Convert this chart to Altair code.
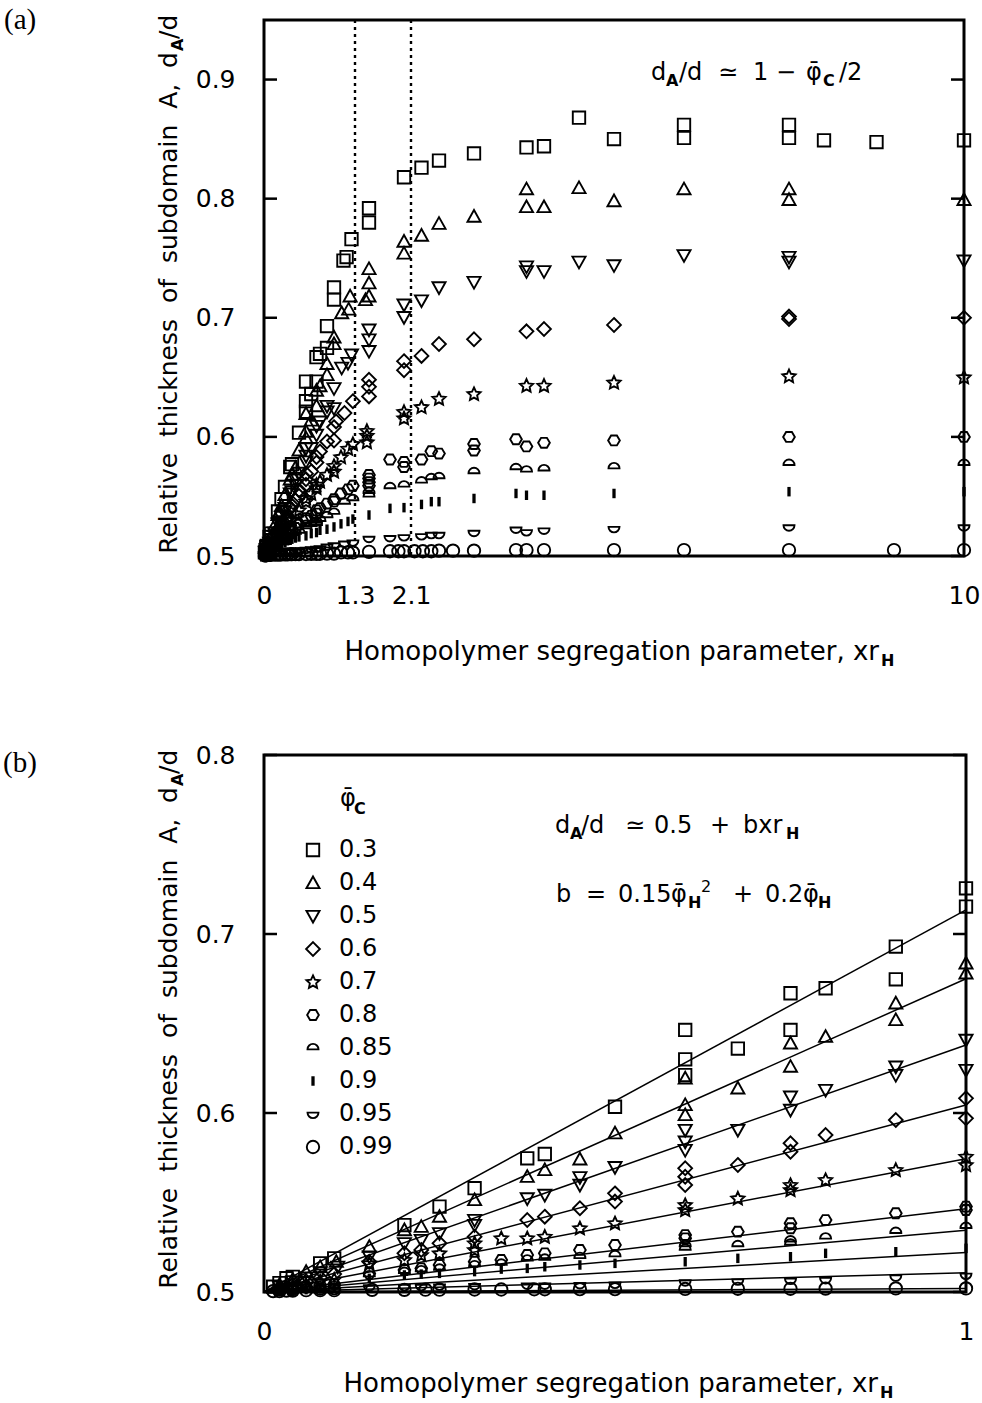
import math
import altair as alt
import pandas as pd

# ---------------- data ----------------
PHI_C = ["0.3", "0.4", "0.5", "0.6", "0.7", "0.8", "0.85", "0.9", "0.95", "0.99"]

X_30 = [0.013, 0.022, 0.032, 0.041, 0.08, 0.1,
        0.2, 0.25, 0.3, 0.375, 0.4, 0.5, 0.6, 0.6, 0.6, 0.675, 0.75, 0.75, 0.8, 0.9, 0.9, 1.0, 1.0,
        1.135, 1.18, 1.25, 1.5, 1.5, 2.0, 2.25, 2.5, 3.0, 3.75, 4.0, 4.5, 5.0, 6.0, 6.0, 7.5, 7.5, 8.0, 8.75, 10.0]
Y_30 = [0.503, 0.505, 0.5077, 0.5085, 0.516, 0.5188,
        0.5374, 0.5477, 0.558, 0.5747, 0.5771, 0.6035, 0.6464, 0.63, 0.6212, 0.636, 0.6669, 0.6464, 0.6697, 0.693, 0.6747, 0.7255, 0.7153,
        0.748, 0.751, 0.766, 0.792, 0.78, 0.818, 0.826, 0.832, 0.838, 0.843, 0.844, 0.868, 0.85, 0.862, 0.851, 0.862, 0.851, 0.849, 0.8475, 0.849]

X_40 = [0.022, 0.041, 0.06, 0.08, 0.103,
        0.15, 0.2, 0.224, 0.25, 0.3, 0.375, 0.4, 0.45, 0.5, 0.6, 0.6, 0.6, 0.675, 0.75, 0.75, 0.8, 0.9, 0.9, 1.0, 1.0,
        1.11, 1.21, 1.23, 1.45, 1.5, 1.5, 1.5, 2.0, 2.0, 2.25, 2.5, 3.0, 3.75, 3.75, 4.0, 4.5, 5.0, 6.0, 7.5, 7.5, 10.0]
Y_40 = [0.504, 0.507, 0.5113, 0.514, 0.5169,
        0.5253, 0.5346, 0.5365, 0.5421, 0.5514, 0.5644, 0.5682, 0.5741, 0.5887, 0.6194, 0.6045, 0.5989, 0.6138, 0.6389, 0.6259, 0.6426, 0.6613, 0.652, 0.6836, 0.678,
        0.704, 0.707, 0.718, 0.715, 0.741, 0.729, 0.718, 0.764, 0.754, 0.769, 0.779, 0.785, 0.808, 0.793, 0.793, 0.809, 0.798, 0.808, 0.808, 0.799, 0.799]

X_50 = [0.022, 0.041, 0.06, 0.08, 0.105,
        0.15, 0.2, 0.224, 0.25, 0.3, 0.3, 0.375, 0.4, 0.45, 0.45, 0.5, 0.6, 0.6, 0.6, 0.675, 0.75, 0.75, 0.8, 0.9, 0.9, 1.0, 1.0,
        1.11, 1.2, 1.25, 1.5, 1.5, 1.5, 2.0, 2.0, 2.25, 2.5, 3.0, 3.75, 3.75, 4.0, 4.5, 5.0, 6.0, 7.5, 7.5, 10.0]
Y_50 = [0.503, 0.506, 0.508, 0.511, 0.5141,
        0.5197, 0.5272, 0.529, 0.5328, 0.5402, 0.5374, 0.5523, 0.5542, 0.5598, 0.5641, 0.5697, 0.5905, 0.584, 0.5793, 0.5905, 0.6091, 0.6017, 0.6128, 0.6259, 0.6212, 0.6408, 0.624,
        0.658, 0.662, 0.669, 0.69, 0.6817, 0.672, 0.711, 0.7005, 0.7145, 0.7255, 0.73, 0.743, 0.739, 0.739, 0.747, 0.744, 0.7525, 0.751, 0.747, 0.748]

X_60 = [0.022, 0.041, 0.06, 0.08, 0.1,
        0.15, 0.2, 0.224, 0.25, 0.3, 0.375, 0.4, 0.45, 0.5, 0.5, 0.6, 0.6, 0.6, 0.675, 0.75, 0.75, 0.8, 0.9, 1.0, 1.0,
        1.03, 1.15, 1.27, 1.5, 1.5, 1.5, 2.0, 2.0, 2.25, 2.5, 3.0, 3.75, 4.0, 5.0, 7.5, 7.5, 10.0]
Y_60 = [0.502, 0.504, 0.506, 0.508, 0.510,
        0.5169, 0.5216, 0.5235, 0.5272, 0.5309, 0.5402, 0.5421, 0.5468, 0.5551, 0.5505, 0.5691, 0.5644, 0.5598, 0.571, 0.5831, 0.5784, 0.5877, 0.5961, 0.6082, 0.597,
        0.613, 0.62, 0.63, 0.648, 0.642, 0.634, 0.6636, 0.656, 0.668, 0.678, 0.682, 0.6886, 0.6906, 0.694, 0.701, 0.699, 0.70]

X_70 = [0.022, 0.041, 0.06, 0.08, 0.1,
        0.15, 0.2, 0.224, 0.25, 0.3, 0.3, 0.338, 0.375, 0.4, 0.45, 0.5, 0.6, 0.6, 0.675, 0.75, 0.75, 0.8, 0.9, 1.0, 1.0,
        1.1, 1.2, 1.27, 1.47, 1.47, 1.47, 2.0, 2.0, 2.25, 2.5, 3.0, 3.75, 4.0, 5.0, 7.5, 10.0]
Y_70 = [0.5015, 0.503, 0.504, 0.506, 0.507,
        0.516, 0.5179, 0.5207, 0.5216, 0.5272, 0.5235, 0.53, 0.53, 0.5309, 0.5356, 0.5384, 0.5486, 0.5458, 0.5523, 0.5598, 0.557, 0.5626, 0.5682, 0.5756, 0.571,
        0.583, 0.59, 0.594, 0.605, 0.601, 0.5956, 0.621, 0.6156, 0.625, 0.632, 0.636, 0.643, 0.643, 0.6456, 0.651, 0.65]

X_80 = [0.022, 0.041, 0.06, 0.08, 0.1,
        0.15, 0.2, 0.224, 0.25, 0.3, 0.338, 0.375, 0.4, 0.45, 0.5, 0.6, 0.6, 0.675, 0.75, 0.75, 0.8, 0.9, 1.0, 1.0,
        1.1, 1.2, 1.27, 1.5, 1.5, 1.5, 1.5, 1.8, 2.0, 2.0, 2.25, 2.39, 2.5, 3.0, 3.0, 3.6, 3.75, 4.0, 5.0, 7.5, 10.0]
Y_80 = [0.501, 0.502, 0.503, 0.504, 0.5045,
        0.5104, 0.5123, 0.5132, 0.5151, 0.5169, 0.5179, 0.5207, 0.5216, 0.5235, 0.5263, 0.5318, 0.53, 0.5337, 0.5384, 0.5356, 0.5402, 0.544, 0.5477, 0.5458,
        0.5525, 0.556, 0.559, 0.568, 0.565, 0.562, 0.559, 0.581, 0.579, 0.5747, 0.581, 0.588, 0.586, 0.594, 0.5886, 0.598, 0.592, 0.595, 0.597, 0.6, 0.6]

X_85 = [0.022, 0.041, 0.06, 0.08, 0.1,
        0.15, 0.2, 0.224, 0.25, 0.3, 0.338, 0.375, 0.4, 0.45, 0.5, 0.6, 0.6, 0.675, 0.75, 0.75, 0.8, 0.9, 1.0,
        1.15, 1.27, 1.5, 1.5, 1.8, 2.0, 2.25, 2.39, 2.5, 3.0, 3.6, 3.75, 4.0, 5.0, 7.5, 10.0]
Y_85 = [0.5008, 0.5014, 0.502, 0.5027, 0.5035,
        0.5095, 0.5114, 0.5123, 0.5132, 0.5151, 0.516, 0.5183, 0.5188, 0.5197, 0.5207, 0.5263, 0.5244, 0.5263, 0.529, 0.5272, 0.5306, 0.5337, 0.5365,
        0.545, 0.548, 0.551, 0.554, 0.558, 0.5594, 0.5628, 0.5656, 0.5664, 0.5706, 0.574, 0.572, 0.573, 0.5747, 0.5775, 0.5775]

X_90 = [0.041, 0.06, 0.08, 0.1,
        0.15, 0.2, 0.224, 0.25, 0.3, 0.338, 0.375, 0.4, 0.45, 0.5, 0.6, 0.675, 0.75, 0.8, 0.9, 1.0,
        1.1, 1.2, 1.27, 1.5, 1.8, 2.0, 2.25, 2.39, 2.5, 3.0, 3.6, 3.75, 4.0, 5.0, 7.5, 10.0]
Y_90 = [0.501, 0.5013, 0.5017, 0.5022,
        0.5076, 0.5095, 0.51, 0.5104, 0.5114, 0.5128, 0.5132, 0.5141, 0.5151, 0.516, 0.5169, 0.5188, 0.5197, 0.5216, 0.5225, 0.5244,
        0.527, 0.529, 0.531, 0.5344, 0.54, 0.5406, 0.5433, 0.5456, 0.5456, 0.5483, 0.5525, 0.551, 0.551, 0.5525, 0.554, 0.554]

X_95 = [0.041, 0.08, 0.1,
        0.15, 0.2, 0.224, 0.25, 0.3, 0.375, 0.4, 0.45, 0.5, 0.6, 0.675, 0.75, 0.8, 0.9, 1.0,
        1.15, 1.27, 1.5, 1.8, 2.0, 2.25, 2.39, 2.5, 3.0, 3.6, 3.75, 4.0, 5.0, 7.5, 10.0]
Y_95 = [0.5005, 0.5008, 0.501,
        0.503, 0.5032, 0.5032, 0.5035, 0.5037, 0.504, 0.504, 0.5043, 0.5045, 0.5058, 0.5063, 0.5067, 0.5071, 0.5085, 0.5095,
        0.511, 0.512, 0.515, 0.5156, 0.5164, 0.5172, 0.5183, 0.5183, 0.52, 0.5228, 0.5206, 0.522, 0.5233, 0.5247, 0.5247]

X_99 = [0.013, 0.022, 0.032, 0.041, 0.06, 0.08, 0.1,
        0.154, 0.2, 0.23, 0.25, 0.3, 0.338, 0.385, 0.4, 0.45, 0.5, 0.6, 0.675, 0.75, 0.8, 0.9, 1.0,
        1.1, 1.2, 1.27, 1.5, 1.8, 1.92, 2.0, 2.15, 2.27, 2.39, 2.5, 2.7, 3.0, 3.6, 3.75, 4.0, 5.0, 6.0, 7.5, 9.0, 10.0]
Y_99 = [0.5005, 0.5005, 0.5008, 0.5008, 0.501, 0.501, 0.501,
        0.5012, 0.5012, 0.5013, 0.5013, 0.5014, 0.5014, 0.5015, 0.5015, 0.5016, 0.5016, 0.5017, 0.5018, 0.5018, 0.5019, 0.502, 0.502,
        0.503, 0.503, 0.503, 0.5035, 0.504, 0.504, 0.504, 0.504, 0.504, 0.504, 0.5045, 0.5045, 0.5045, 0.505, 0.505, 0.505, 0.505, 0.505, 0.505, 0.505, 0.505]

# fitted straight lines of panel (b): value at xr_H = 0 and at xr_H = 1
LINE_X = [0.0, 1.0]
LINE_START = 0.5
LINE_END = [0.7135, 0.675, 0.638, 0.6045, 0.5745, 0.5465, 0.5345, 0.522, 0.5108, 0.502]

A_XTICKS = [0, 1.3, 2.1, 10]
A_YTICKS = [0.5, 0.6, 0.7, 0.8, 0.9]
B_XTICKS = [0, 1]
B_YTICKS = [0.5, 0.6, 0.7, 0.8]
GUIDES = [1.3, 2.1]

# ---------------- tables ----------------
SERIES = list(zip(PHI_C, [X_30, X_40, X_50, X_60, X_70, X_80, X_85, X_90, X_95, X_99],
                  [Y_30, Y_40, Y_50, Y_60, Y_70, Y_80, Y_85, Y_90, Y_95, Y_99]))
rows = []
for phi, xs, ys in SERIES:
    assert len(xs) == len(ys), phi
    rows += [{"phi": phi, "x": a, "y": b} for a, b in zip(xs, ys)]
pts = pd.DataFrame(rows)

line_rows = []
for phi, end in zip(PHI_C, LINE_END):
    line_rows.append({"phi": phi, "x": LINE_X[0], "y": LINE_START})
    line_rows.append({"phi": phi, "x": LINE_X[1], "y": end})
lines = pd.DataFrame(line_rows)

# ---------------- marker shapes ----------------
star_pts = []
for i in range(10):
    r = 1.0 if i % 2 == 0 else 0.48
    a = -math.pi / 2 + i * math.pi / 5
    star_pts.append(f"{r * math.cos(a):.3f},{r * math.sin(a) + 0.05:.3f}")
STAR = "M" + "L".join(star_pts) + "Z"
SHAPES = [
    "M-0.9,-0.9H0.9V0.9H-0.9Z",                       # square
    "M0,-0.95L0.95,0.75H-0.95Z",                      # triangle up
    "M-0.95,-0.75H0.95L0,0.95Z",                      # triangle down
    "M0,-1L1,0L0,1L-1,0Z",                            # diamond
    STAR,                                             # star
    "M-0.85,0L-0.42,-0.72H0.42L0.85,0L0.42,0.72H-0.42Z",  # hexagon
    "M-0.8,0.2A0.8,0.8 0 0 1 0.8,0.2Z",               # dome
    "M-0.1,-0.55H0.1V0.55H-0.1Z",                     # bar
    "M-0.8,-0.2A0.8,0.8 0 0 0 0.8,-0.2Z",             # bowl
    "M-0.9,0A0.9,0.9 0 1 0 0.9,0A0.9,0.9 0 1 0 -0.9,0Z",  # circle
]
shape_scale = alt.Scale(domain=PHI_C, range=SHAPES)

FONT = "DejaVu Sans"
SERIF = "Liberation Serif"
PHIBAR = "\u03c6\u0304"
GAP = " \u00a0"   # wide word gap (a plain double space would be collapsed in SVG)
MSIZE = 190
MSTROKE = 1.9
TICK_PX = 13


def txt(s, x, y, size=24, bold=False, angle=0, align="left", font=FONT, baseline="alphabetic"):
    return alt.Chart(alt.Data(values=[{"k": 0}])).mark_text(
        text=s, fontSize=size, fontWeight="bold" if bold else "normal",
        angle=angle, align=align, baseline=baseline, font=font, color="black",
    ).encode(x=alt.value(x), y=alt.value(y))


def frame(w, h):
    return alt.Chart(alt.Data(values=[{"k": 0}])).mark_rect(
        filled=False, stroke="black", strokeWidth=3).encode(
        x=alt.value(0), x2=alt.value(w), y=alt.value(0), y2=alt.value(h))


def axis(vals, fmt, pad):
    return alt.Axis(values=vals, format=fmt, title=None, ticks=False, domain=False, grid=False,
                    labelFontSize=25, labelFont=FONT, labelColor="black", labelPadding=pad,
                    labelFlush=False, labelOverlap=False)


def point_layer(data, xe, ye, legend):
    return alt.Chart(data).mark_point(filled=False, size=MSIZE, strokeWidth=MSTROKE, color="black",
                                      opacity=1).encode(
        x=xe, y=ye, shape=alt.Shape("phi:N", scale=shape_scale, legend=legend))


def tick_layers(vals, xscale, xaxis, ye, xdom, w):
    # inward ticks on both vertical sides of the frame
    span = (xdom[1] - xdom[0]) * TICK_PX / w
    n = len(vals)
    d = pd.DataFrame({"y": vals, "x": [xdom[0]] * n, "x2": [xdom[0] + span] * n,
                      "xr": [xdom[1] - span] * n, "xr2": [xdom[1]] * n})
    left = alt.Chart(d).mark_rule(color="black", strokeWidth=2.5).encode(
        y=ye, x=alt.X("x:Q", scale=xscale, axis=xaxis), x2="x2:Q")
    right = alt.Chart(d).mark_rule(color="black", strokeWidth=2.5).encode(
        y=ye, x=alt.X("xr:Q", scale=xscale, axis=xaxis), x2="xr2:Q")
    return [left, right]


def ytitle():
    main = GAP.join(["Relative", "thickness", "of", "subdomain", "A,", "d"])
    return [
        txt(main, -87, 32, size=25, angle=270, align="right"),
        txt("A", -81, 31, size=16, bold=True, angle=270, align="left"),
        txt("/d", -87, 19, size=25, angle=270, align="left"),
    ]


def xtitle(xend, y):
    return [
        txt("Homopolymer segregation parameter, xr", xend, y, size=26, align="right"),
        txt("H", xend + 2, y + 6, size=16, bold=True),
    ]


# ---------------- panel (a) ----------------
WA, HA = 700, 536
XDOM_A = [0, 10]
XSCALE_A = alt.Scale(domain=XDOM_A, nice=False, zero=False)
XAXIS_A = axis(A_XTICKS, ".1~f", 27)
xa = alt.X("x:Q", scale=XSCALE_A, axis=XAXIS_A)
ya = alt.Y("y:Q", scale=alt.Scale(domain=[0.5, 0.95], nice=False, zero=False), axis=axis(A_YTICKS, ".1f", 29))

guides = alt.Chart(pd.DataFrame({"x": GUIDES})).mark_rule(
    strokeDash=[3, 4], strokeWidth=2.4, color="black").encode(x=xa)

fa_y, fa_sub = 60, 66
formula_a = [
    txt("d", 387, fa_y), txt("A", 402, fa_sub, size=16, bold=True), txt("/d", 415, fa_y),
    txt("\u2243", 454, fa_y), txt("1", 489, fa_y), txt("\u2212", 512, fa_y),
    txt(PHIBAR, 542, fa_y), txt("C", 559, fa_sub, size=16, bold=True), txt("/2", 575, fa_y),
]

panel_a = alt.layer(
    point_layer(pts, xa, ya, None),
    guides,
    *tick_layers(A_YTICKS, XSCALE_A, XAXIS_A, ya, XDOM_A, WA),
    frame(WA, HA),
    txt("(a)", -260, -14, size=29, font=SERIF, baseline="top"),
    *ytitle(), *xtitle(615, 640), *formula_a,
).properties(width=WA, height=HA)

# ---------------- panel (b) ----------------
WB, HB = 702, 537
XDOM_B = [0, 1]
XSCALE_B = alt.Scale(domain=XDOM_B, nice=False, zero=False)
XAXIS_B = axis(B_XTICKS, ".1~f", 27)
xb = alt.X("x:Q", scale=XSCALE_B, axis=XAXIS_B)
yb = alt.Y("y:Q", scale=alt.Scale(domain=[0.5, 0.8], nice=False, zero=False), axis=axis(B_YTICKS, ".1f", 29))

fit_lines = alt.Chart(lines).mark_line(color="black", strokeWidth=1.5).encode(
    x=xb, y=yb, detail="phi:N")

legend_b = alt.Legend(orient="none", legendX=37, legendY=83, title=None,
                      labelFontSize=24, labelFont=FONT, labelColor="black",
                      symbolSize=MSIZE, symbolStrokeColor="black", symbolStrokeWidth=MSTROKE,
                      symbolFillColor="transparent", rowPadding=9, labelOffset=14,
                      padding=0, symbolOffset=0, labelLimit=300)

pts_b = point_layer(pts, xb, yb, legend_b).transform_filter("datum.x <= 1.0001")

f1, f1s = 78, 84
f2, f2s, f2p = 147, 153, 137
formula_b = [
    txt("d", 291, f1), txt("A", 306, f1s, size=16, bold=True), txt("/d", 317, f1),
    txt("\u2243", 361, f1), txt("0.5", 390, f1), txt("+", 446, f1), txt("bxr", 479, f1),
    txt("H", 522, f1s, size=16, bold=True),
    txt("b", 292, f2), txt("=", 322, f2), txt("0.15", 354, f2), txt(PHIBAR, 407, f2),
    txt("H", 424, f2s, size=16, bold=True), txt("2", 437, f2p, size=16),
    txt("+", 469, f2), txt("0.2", 501, f2), txt(PHIBAR, 539, f2),
    txt("H", 554, f2s, size=16, bold=True),
    txt(PHIBAR, 76, 51, size=24), txt("C", 90, 59, size=16, bold=True),
]

panel_b = alt.layer(
    pts_b,
    fit_lines,
    *tick_layers(B_YTICKS, XSCALE_B, XAXIS_B, yb, XDOM_B, WB),
    frame(WB, HB),
    txt("(b)", -261, -6, size=29, font=SERIF, baseline="top"),
    *ytitle(), *xtitle(614, 637), *formula_b,
).properties(width=WB, height=HB)

chart = alt.vconcat(panel_a, panel_b, spacing=199, bounds="flush").resolve_scale(
    x="independent", y="independent", shape="independent"
).resolve_legend(shape="independent").properties(
    padding={"left": 2, "top": 5, "right": 0, "bottom": 0}
).configure_view(strokeWidth=0).configure(background="white")

chart.save("out.html", embed_options={"renderer": "svg", "actions": False})
